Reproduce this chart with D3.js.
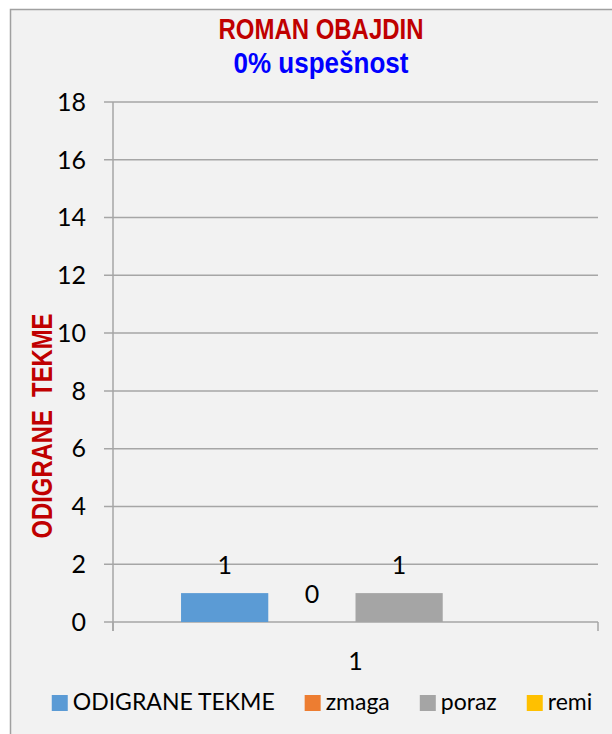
<!DOCTYPE html>
<html>
<head>
<meta charset="utf-8">
<script src="https://cdn.jsdelivr.net/npm/d3@7/dist/d3.min.js"></script>
<style>
  body { margin: 0; background: #ffffff; }
  svg { display: block; }
</style>
</head>
<body>
<div id="chart"></div>
<script>
// podatki
const categories = ["1"];
const series = ["ODIGRANE TEKME", "zmaga", "poraz", "remi"];
const values = [1, 0, 1, null];
const colors = ["#5B9BD5", "#ED7D31", "#A5A5A5", "#FFC000"];
const yTicks = [0, 2, 4, 6, 8, 10, 12, 14, 16, 18];

const width = 612, height = 734;
const baseFont = "Lato, 'Open Sans', sans-serif";
const narrowBold = "'Liberation Sans', Arial, sans-serif";

const svg = d3.select("#chart").append("svg")
    .attr("width", width)
    .attr("height", height);

// ozadje grafikona
svg.append("rect")
    .attr("x", 10.5).attr("y", 9.5)
    .attr("width", 625).attr("height", 740)
    .style("fill", "#F2F2F2")
    .style("stroke", "#A0A0A0")
    .style("stroke-width", 1.5);

const plot = { left: 113, right: 598, top: 102, bottom: 622 };

const x0 = d3.scaleBand().domain(categories).range([plot.left, plot.right]);
const x1 = d3.scaleBand().domain(series).range([0, x0.bandwidth()]).paddingOuter(0.78);
const y = d3.scaleLinear().domain([0, 18]).range([plot.bottom, plot.top]);

// mreža
svg.append("g")
    .selectAll("line")
    .data(yTicks)
    .enter().append("line")
    .attr("x1", plot.left - 9).attr("x2", plot.right)
    .attr("y1", d => y(d)).attr("y2", d => y(d))
    .style("stroke", "#A6A6A6")
    .style("stroke-width", 1.5);

// y os
svg.append("line")
    .attr("x1", plot.left).attr("x2", plot.left)
    .attr("y1", plot.top).attr("y2", plot.bottom + 9)
    .style("stroke", "#A6A6A6").style("stroke-width", 1.5);

// x os - oznake na robovih kategorij
const edges = [plot.left].concat(categories.map(c => x0(c) + x0.bandwidth()));
svg.append("g").selectAll("line")
    .data(edges)
    .enter().append("line")
    .attr("x1", d => d).attr("x2", d => d)
    .attr("y1", plot.bottom).attr("y2", plot.bottom + 9)
    .style("stroke", "#A6A6A6").style("stroke-width", 1.5);

// oznake y osi
svg.append("g").selectAll("text")
    .data(yTicks)
    .enter().append("text")
    .attr("x", 86)
    .attr("y", d => y(d))
    .attr("dy", "0.35em")
    .attr("text-anchor", "end")
    .style("font-family", baseFont)
    .style("font-size", "25px")
    .style("fill", "#000")
    .text(d => d);

// oznaka kategorije
svg.append("g").selectAll("text")
    .data(categories)
    .enter().append("text")
    .attr("x", d => x0(d) + x0.bandwidth() / 2)
    .attr("y", 670)
    .attr("text-anchor", "middle")
    .style("font-family", baseFont)
    .style("font-size", "25px")
    .text(d => d);

// stolpci
const rows = series.map((s, i) => ({ series: s, value: values[i], color: colors[i], cat: categories[0] }));

svg.append("g").selectAll("rect")
    .data(rows.filter(d => d.value !== null && d.value > 0))
    .enter().append("rect")
    .attr("x", d => x0(d.cat) + x1(d.series))
    .attr("y", d => y(d.value))
    .attr("width", x1.bandwidth())
    .attr("height", d => y(0) - y(d.value))
    .style("fill", d => d.color);

// vrednosti nad stolpci
svg.append("g").selectAll("text")
    .data(rows.filter(d => d.value !== null))
    .enter().append("text")
    .attr("x", d => x0(d.cat) + x1(d.series) + x1.bandwidth() / 2)
    .attr("y", d => y(d.value) - 19)
    .attr("text-anchor", "middle")
    .style("font-family", baseFont)
    .style("font-size", "25px")
    .text(d => d.value);

// naslov (ozka pisava - stisnjeno s textLength)
svg.append("text")
    .attr("x", 321).attr("y", 39)
    .attr("text-anchor", "middle")
    .attr("textLength", 205)
    .attr("lengthAdjust", "spacingAndGlyphs")
    .style("font-family", narrowBold)
    .style("font-weight", "bold")
    .style("font-size", "29px")
    .style("fill", "#C00000")
    .text("ROMAN OBAJDIN");

svg.append("text")
    .attr("x", 321).attr("y", 73)
    .attr("text-anchor", "middle")
    .attr("textLength", 175)
    .attr("lengthAdjust", "spacingAndGlyphs")
    .style("font-family", narrowBold)
    .style("font-weight", "bold")
    .style("font-size", "30px")
    .style("fill", "#0000FF")
    .text("0% uspešnost");

// naslov y osi
svg.append("text")
    .attr("transform", "translate(52," + 426 + ") rotate(-90)")
    .attr("text-anchor", "middle")
    .attr("textLength", 225)
    .attr("lengthAdjust", "spacingAndGlyphs")
    .style("font-family", narrowBold)
    .style("font-weight", "bold")
    .style("font-size", "29px")
    .style("fill", "#C00000")
    .text("ODIGRANE\u00A0 TEKME");

// legenda
const legend = svg.append("g");
const items = legend.selectAll("g")
    .data(series)
    .enter().append("g");

items.append("rect")
    .attr("width", 16).attr("height", 16)
    .attr("y", 695)
    .style("fill", (d, i) => colors[i]);

items.append("text")
    .attr("x", 21)
    .attr("y", 710)
    .style("font-family", baseFont)
    .style("font-size", "23px")
    .text(d => d);

let widths = [];
items.each(function () {
    widths.push(21 + d3.select(this).select("text").node().getComputedTextLength());
});
const gap = 30;
const total = d3.sum(widths) + gap * (widths.length - 1);
let cx = 322 - total / 2;
items.attr("transform", (d, i) => {
    const t = `translate(${cx},0)`;
    cx += widths[i] + gap;
    return t;
});
</script>
</body>
</html>
